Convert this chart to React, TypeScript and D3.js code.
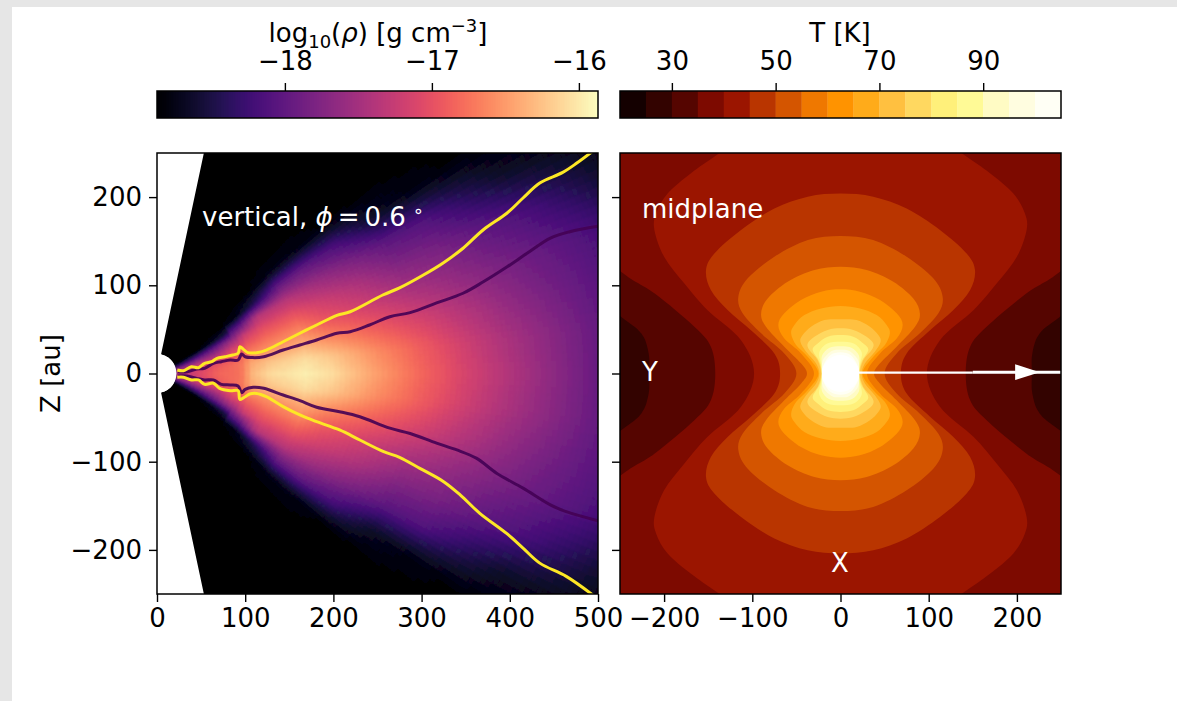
import React, { useEffect, useRef } from 'react';
import * as d3 from 'd3';

// density table, log10(rho): one row per elevation, one column per radius
const NONE = -18.87;
const radii = [20, 30, 50, 70, 90, 97, 108, 130, 170, 200, 250, 300, 350, 400, 450, 500, 560];
const elevations = [0, 6, 12, 18, 24, 30, 36, 42, 48];
const rhoEl0 = [-17.52, -17.37, -17.07, -16.83, -16.77, -16.71, -16.32, -16.08, -15.96, -16.08, -16.47, -16.83, -17.13, -17.40, -17.67, -17.94, -18.09];
const rhoEl6 = [-17.52, -17.37, -17.13, -16.89, -16.77, -16.71, -16.41, -16.23, -16.08, -16.23, -16.59, -16.89, -17.19, -17.46, -17.70, -17.94, -18.12];
const rhoEl12 = [-17.67, -17.52, -17.22, -17.07, -16.89, -16.83, -16.62, -16.53, -16.41, -16.62, -16.89, -17.13, -17.37, -17.61, -17.82, -18.00, -18.18];
const rhoEl18 = [-18.12, -17.97, -17.67, -17.52, -17.13, -17.07, -16.92, -16.77, -16.68, -16.95, -17.19, -17.43, -17.61, -17.79, -17.94, -18.09, -18.30];
const rhoEl24 = [-18.72, -18.57, -18.27, -17.97, -17.61, -17.52, -17.22, -17.04, -17.01, -17.19, -17.43, -17.73, -17.82, -18.00, -18.15, -18.36, -18.63];
const rhoEl30 = [NONE, NONE, NONE, -18.72, -18.51, -18.12, -17.97, -17.37, -17.37, -17.52, -17.76, -18.03, -18.12, -18.39, -18.63, -18.72, -18.84];
const rhoEl36 = [NONE, NONE, NONE, NONE, NONE, -18.81, -18.78, -18.51, -17.97, -17.97, -18.18, -18.63, -18.78, -18.84, NONE, NONE, NONE];
const rhoEl42 = [NONE, NONE, NONE, NONE, NONE, NONE, NONE, NONE, -18.75, -18.75, -18.84, NONE, NONE, NONE, NONE, NONE, NONE];
const rhoEl48 = radii.map(() => NONE);
const rhoRows = [rhoEl0, rhoEl6, rhoEl12, rhoEl18, rhoEl24, rhoEl30, rhoEl36, rhoEl42, rhoEl48];

// surfaces in the left panel, [r, z] in au
const yellowUpper = [[23, 4], [30, 3.2], [39, 7.7], [47, 6.6], [54, 11.5], [62, 13.4], [68, 17.2], [77, 19], [86, 21], [92, 23], [94, 30.4], [98, 27.4], [103, 23.6], [113, 23.6], [124, 26.6], [143, 36], [162, 45.6], [181, 55], [204, 66], [219, 70], [256, 89], [275, 97], [302, 111.6], [324, 125], [347, 142], [370, 163], [397, 182], [415, 199], [434, 216], [460, 228], [476, 238.6], [494, 252]];
const yellowLower = [[23, -4.3], [30, -4.3], [39, -7.3], [47, -7.3], [54, -12.3], [64, -11], [71, -16.8], [83, -19.5], [92, -19.5], [94, -29.3], [100, -26.3], [105, -23.3], [113, -22.6], [124, -26.3], [143, -37.6], [162, -47], [181, -54.6], [207, -64], [230, -75.4], [257, -88.6], [275, -95], [298, -107.5], [325, -122.6], [344, -137.8], [366, -158.5], [396, -181], [415, -198], [434, -215], [464, -230], [494, -251]];
const purpleUpper = [[24, 2], [34, 2], [45, 5], [54, 5.8], [64, 11.5], [73, 13.4], [83, 15.3], [92, 15.3], [96, 22], [100, 19], [109, 18], [121, 19], [143, 26.6], [162, 32.3], [181, 38], [204, 45.6], [219, 47.4], [241, 55], [264, 64.4], [287, 69], [317, 80], [347, 91], [370, 104], [397, 121], [420, 136.6], [446, 153.6], [468, 160.8], [500, 167]];
const purpleLower = [[24, -2.8], [34, -2.8], [45, -5.5], [54, -7.3], [64, -7.3], [73, -12.3], [83, -13], [92, -14.2], [96, -21.7], [100, -18], [109, -15.7], [121, -16.8], [143, -24.4], [162, -30.8], [181, -38.3], [207, -43.3], [230, -49], [264, -62], [287, -68], [317, -79], [340, -86.7], [362, -96], [385, -113], [415, -130], [446, -149], [464, -156.7], [500, -167]];

// temperature contours of the right panel, first quadrant only: the picture is close to mirror-symmetric
const contour30 = [[330, 125], [251, 66], [226, 45.5], [217.5, 22.8], [217, 0]];
const contour35 = [[330, 185], [251, 117], [211, 90.9], [165.7, 53], [147, 30.4], [142, 0]];
const contour40 = [[0, 310], [70, 295], [137.4, 249.6], [169.5, 227], [196, 204], [209, 181.6], [211, 162.7], [200, 132.4], [177, 102], [151, 72], [113, 38], [98, 0]];
const contour45 = [[0, 204], [37.2, 200.5], [75, 187], [112.8, 162.7], [143, 136], [152.5, 117], [147, 94.6], [128, 72], [101.5, 49], [75, 22.8], [68.5, 0]];
const contour50 = [[0, 155.9], [37, 151.3], [75, 132.4], [105.2, 107.9], [115.8, 87], [111, 68.2], [90, 45.5], [63.7, 22.8], [50, 0]];
const contour55 = [[0, 121], [29.6, 117.3], [59.9, 104], [82.6, 85], [90, 68], [84.5, 53], [63.7, 30.4], [44.8, 11.5], [38, 0]];
const contour60 = [[0, 95.4], [22, 92.8], [44.8, 83.3], [63.7, 68.2], [70.5, 55], [63.7, 39.8], [44.8, 22.8], [30, 0]];
const contour65 = [[0, 76.5], [22, 73.8], [41, 66.3], [52.3, 55], [56, 45.5], [50.4, 32.3], [37.2, 19], [25, 0]];
const contour70 = [[0, 61.4], [18.3, 60.6], [33.4, 53], [42.9, 43.6], [45.5, 36], [39, 24.7], [27.8, 11.5], [24, 0]];
const contour75 = [[0, 51.2], [14.5, 49.3], [29.6, 41.7], [37.2, 34], [35.3, 26.6], [25.9, 15.3], [22, 0]];
const contour80 = [[0, 43.6], [14.5, 41.7], [25.9, 34], [31.5, 26.6], [24, 13.4], [21, 0]];
const contour85 = [[0, 36], [15, 34], [24, 24], [22, 10], [21, 0]];
const contour90 = [[0, 31], [13, 29], [21, 20], [21, 8], [21, 0]];
const contour95 = [[0, 27], [10, 25.5], [20, 15], [21, 0]];
const contour100 = [[0, 24], [12, 20.5], [20, 8], [21, 0]];

const tempLevels = [20, 25, 30, 35, 40, 45, 50, 55, 60, 65, 70, 75, 80, 85, 90, 95, 100];
const tempColors = ['#140000', '#330300', '#550500', '#7d0a00', '#9b1500', '#b93500', '#d45500', '#ef7800', '#ff9300', '#ffab1a', '#ffc040', '#ffd860', '#fff07a', '#fffa96', '#fffbc4', '#fffde0', '#fffff5'];
const rings = [
  [40, contour40], [45, contour45], [50, contour50], [55, contour55], [60, contour60], [65, contour65], [70, contour70],
  [75, contour75], [80, contour80], [85, contour85], [90, contour90], [95, contour95], [100, contour100],
];

const streamThin = [[21, 1], [150, 1]];
const streamThick = [[150, 1.5], [250, 1.5]];
const arrowHead = [[198, 10.5], [226, 1.5], [198, -7.5]];

const rhoTicks = [-18, -17, -16];
const tempTicks = [30, 50, 70, 90];
const rTicks = [0, 100, 200, 300, 400, 500];
const xTicks = [-200, -100, 0, 100, 200];
const zTicks = [-200, -100, 0, 100, 200];

const FONT = '"DejaVu Sans"';
const FS = 26;
const FS_SMALL = 18;
const left = { x0: 157, x1: 598 };
const right = { x0: 620, x1: 1061 };
const top = 153;
const bottom = 594;
const barTop = 91;
const barBottom = 118;

const rScale = d3.scaleLinear().domain([0, 500]).range([left.x0, left.x1]);
const xScale = d3.scaleLinear().domain([-250, 250]).range([right.x0, right.x1]);
const zScale = d3.scaleLinear().domain([-250, 250]).range([bottom, top]);
const rhoBar = d3.scaleLinear().domain([-18.87, -15.87]).range([left.x0, left.x1]);
const tempBar = d3.scaleLinear().domain([20, 105]).range([right.x0, right.x1]);
const magma = d3.scaleSequential(d3.interpolateMagma).domain([-18.87, -15.87]);

const rowScales = rhoRows.map(row => d3.scaleLinear().domain(radii).range(row).clamp(true));
const sampleRho = (r: number, el: number) => {
  const column = rowScales.map(s => s(r));
  return d3.scaleLinear().domain(elevations).range(column).clamp(true)(Math.abs(el));
};

const auPx = rScale(1) - rScale(0);
const deg = (a: number) => (a * Math.PI) / 180;
const arc = d3.arc();
const R_STEP = 6;
const EL_STEP = 1;
const rEdges = d3.range(22, 580, R_STEP);
const elEdges = d3.range(-48, 48, EL_STEP);

const fieldCells = rEdges.flatMap(r =>
  elEdges.map(el => ({ r, el, v: sampleRho(r + R_STEP / 2, el + EL_STEP / 2) })).filter(c => c.v > NONE + 0.005)
);

const surface = d3.line().x(d => rScale(d[0])).y(d => zScale(d[1])).curve(d3.curveCatmullRom.alpha(0.5));
const plain = d3.line().x(d => xScale(d[0])).y(d => zScale(d[1]));
const closed = d3.line().x(d => xScale(d[0])).y(d => zScale(d[1])).curve(d3.curveCatmullRomClosed.alpha(0));

// quadrant -> whole ring
const fullRing = (q: number[][]) => {
  const half = [...q, ...q.slice(0, -1).reverse().map(([x, z]) => [x, -z])];
  return [...half, ...half.slice(1, -1).reverse().map(([x, z]) => [-x, z])];
};
// side lobes that run out of the panel
const sideLobe = (q: number[][], sign: number) =>
  [...q, ...q.slice(0, -1).reverse().map(([x, z]) => [x, -z])].map(([x, z]) => [sign * x, z]);

const tempColor = (level: number) => tempColors[tempLevels.indexOf(level)];

function Axis({ make, scale, values, at, labels = true, padding = 7 }) {
  const ref = useRef(null);
  useEffect(() => {
    const axis = make(scale).tickValues(values).tickSize(8).tickPadding(padding).tickFormat(labels ? d3.format('d') : () => '');
    const g = d3.select(ref.current);
    g.call(axis);
    g.select('.domain').remove();
    g.selectAll('.tick line').attr('stroke', '#000').attr('stroke-width', 1.4);
    g.selectAll('.tick text').attr('fill', '#000').attr('font-size', FS).attr('font-family', FONT);
    // eslint-disable-next-line
  }, []);
  return <g ref={ref} transform={at} />;
}

export default function App() {
  return (
    <svg width={1177} height={701} style={{ position: 'absolute', left: 0, top: 0 }} fontFamily={FONT} fontSize={FS}>
      <defs>
        <clipPath id="panelL"><rect x={left.x0} y={top} width={left.x1 - left.x0} height={bottom - top} /></clipPath>
        <clipPath id="panelR"><rect x={right.x0} y={top} width={right.x1 - right.x0} height={bottom - top} /></clipPath>
        <filter id="soft" x="-5%" y="-5%" width="110%" height="110%"><feGaussianBlur stdDeviation={0.8} /></filter>
      </defs>
      <rect width={1177} height={701} fill="#e6e6e6" />
      <rect x={12} y={7} width={1165} height={694} fill="#fff" />

      {/* colorbars */}
      {d3.range(left.x0, left.x1).map(px => (
        <rect key={px} x={px} y={barTop} width={1} height={barBottom - barTop} fill={magma(rhoBar.invert(px + 0.5))} />
      ))}
      {tempLevels.map((t, i) => (
        <rect key={t} x={tempBar(t)} y={barTop} width={tempBar(t + 5) - tempBar(t) + 0.3} height={barBottom - barTop} fill={tempColors[i]} />
      ))}
      <rect x={left.x0} y={barTop} width={left.x1 - left.x0} height={barBottom - barTop} fill="none" stroke="#000" strokeWidth={1.5} />
      <rect x={right.x0} y={barTop} width={right.x1 - right.x0} height={barBottom - barTop} fill="none" stroke="#000" strokeWidth={1.5} />
      <Axis make={d3.axisTop} scale={rhoBar} values={rhoTicks} at={`translate(0,${barTop})`} padding={13} />
      <Axis make={d3.axisTop} scale={tempBar} values={tempTicks} at={`translate(0,${barTop})`} padding={13} />
      <text x={378} y={42} textAnchor="middle">
        log<tspan fontSize={FS_SMALL} dy={6}>10</tspan><tspan dy={-6}>(</tspan><tspan fontStyle="italic">ρ</tspan>) [g cm<tspan fontSize={FS_SMALL} dy={-10}>−3</tspan><tspan dy={10}>]</tspan>
      </text>
      <text x={840} y={42} textAnchor="middle">T [K]</text>

      {/* left panel */}
      <g clipPath="url(#panelL)">
        <path
          transform={`translate(${rScale(0)},${zScale(0)})`}
          fill="#000"
          d={arc({ innerRadius: 22 * auPx, outerRadius: 640 * auPx, startAngle: deg(90 - 78), endAngle: deg(90 + 78) })}
        />
        <g transform={`translate(${rScale(0)},${zScale(0)})`} filter="url(#soft)">
          {fieldCells.map(c => (
            <path
              key={`${c.r}-${c.el}`}
              fill={magma(c.v)}
              stroke={magma(c.v)}
              strokeWidth={1}
              d={arc({
                innerRadius: c.r * auPx,
                outerRadius: (c.r + R_STEP) * auPx,
                startAngle: deg(90 - c.el - EL_STEP),
                endAngle: deg(90 - c.el),
              })}
            />
          ))}
        </g>
        <circle cx={rScale(0)} cy={zScale(0)} r={22 * auPx} fill="#fff" />
        <path d={surface(purpleUpper)} fill="none" stroke="#440154" strokeOpacity={0.9} strokeWidth={3} />
        <path d={surface(purpleLower)} fill="none" stroke="#440154" strokeOpacity={0.9} strokeWidth={3} />
        <path d={surface(yellowUpper)} fill="none" stroke="#fde725" strokeWidth={3} />
        <path d={surface(yellowLower)} fill="none" stroke="#fde725" strokeWidth={3} />
      </g>
      <text x={202} y={226} fill="#fff">
        vertical, <tspan fontStyle="italic">ϕ</tspan><tspan dx={5}>=</tspan><tspan dx={5}>0.6</tspan><tspan dx={7} dy={-9} fontSize={FS_SMALL}>∘</tspan>
      </text>
      <rect x={left.x0} y={top} width={left.x1 - left.x0} height={bottom - top} fill="none" stroke="#000" strokeWidth={1.5} />
      <Axis make={d3.axisBottom} scale={rScale} values={rTicks} at={`translate(0,${bottom})`} />
      <Axis make={d3.axisLeft} scale={zScale} values={zTicks} at={`translate(${left.x0},0)`} />
      <text transform={`translate(60,${zScale(0)}) rotate(-90)`} textAnchor="middle">Z [au]</text>

      {/* right panel */}
      <g clipPath="url(#panelR)">
        <rect x={right.x0} y={top} width={right.x1 - right.x0} height={bottom - top} fill={tempColor(35)} />
        {[1, -1].map(s => (
          <g key={s}>
            <path d={closed(sideLobe(contour35, s))} fill={tempColor(30)} />
            <path d={closed(sideLobe(contour30, s))} fill={tempColor(25)} />
          </g>
        ))}
        {rings.map(([level, pts]) => (
          <path key={level} d={closed(fullRing(pts))} fill={tempColor(level)} />
        ))}
        <circle cx={xScale(0)} cy={zScale(0)} r={21 * auPx} fill="#fff" />
        <path d={plain(streamThin)} stroke="#fff" strokeWidth={2.2} fill="none" />
        <path d={plain(streamThick)} stroke="#fff" strokeWidth={3} fill="none" />
        <path d={plain(arrowHead) + 'Z'} fill="#fff" />
      </g>
      <text x={642} y={218} fill="#fff">midplane</text>
      <text x={650} y={381} fill="#fff" textAnchor="middle">Y</text>
      <text x={840} y={572} fill="#fff" textAnchor="middle">X</text>
      <rect x={right.x0} y={top} width={right.x1 - right.x0} height={bottom - top} fill="none" stroke="#000" strokeWidth={1.5} />
      <Axis make={d3.axisBottom} scale={xScale} values={xTicks} at={`translate(0,${bottom})`} />
      <Axis make={d3.axisLeft} scale={zScale} values={zTicks} at={`translate(${right.x0},0)`} labels={false} />
    </svg>
  );
}
